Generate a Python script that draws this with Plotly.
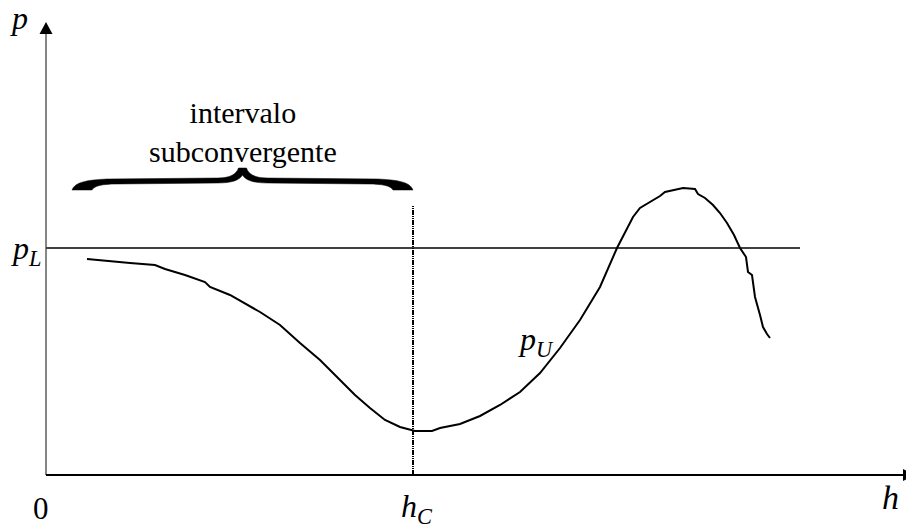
import plotly.graph_objects as go

# ---- data (h, p) ----
h_curve = [41, 54, 84, 109, 119, 139, 159, 164, 184, 214, 234, 254, 274, 294, 309, 324, 339, 354,
           369, 386, 394, 414, 434, 454, 474, 494, 514, 534, 554, 571, 587, 594, 604, 614, 619,
           629, 637, 649, 652, 659, 667, 674, 681, 688, 694, 700, 702, 706, 709, 714, 717, 721, 724]
p_curve = [216, 215, 212, 210, 206, 200, 193, 188, 180, 163, 150, 132, 115, 95, 80, 67, 55, 48,
           44, 44, 47, 51, 59, 70, 83, 102, 127, 155, 188, 227, 258, 267, 273, 279, 283,
           285, 287, 286, 281, 277, 270, 262, 252, 240, 227, 218, 203, 200, 178, 160, 148, 141, 137]

p_L = 227          # level of the horizontal line
h_L_end = 754      # end of horizontal line
h_C = 367          # critical h
h_C_top = 270      # top of dotted line
brace_start = 26   # left end of brace
brace_base = 285   # bottom level of brace
h_max = 857        # end of h axis (arrow base)
p_max = 441        # end of p axis (arrow base)

BLACK = "#000000"
SERIF = "Liberation Serif"

fig = go.Figure()

# main curve p_U
fig.add_trace(go.Scatter(x=h_curve, y=p_curve, mode="lines",
                         line=dict(color=BLACK, width=2), hoverinfo="skip"))
# horizontal p_L line
fig.add_trace(go.Scatter(x=[0, h_L_end], y=[p_L, p_L], mode="lines",
                         line=dict(color=BLACK, width=1.3), hoverinfo="skip"))
# dotted vertical at h_C
fig.add_trace(go.Scatter(x=[h_C, h_C], y=[0, h_C_top], mode="lines",
                         line=dict(color=BLACK, width=2, dash="5px,1px,1px,1px,1px,1px"),
                         hoverinfo="skip"))
# axes
fig.add_trace(go.Scatter(x=[0, 0], y=[0, p_max], mode="lines",
                         line=dict(color="#444444", width=1.3), hoverinfo="skip"))
fig.add_trace(go.Scatter(x=[0, h_max], y=[0, 0], mode="lines",
                         line=dict(color=BLACK, width=2), hoverinfo="skip"))

shapes = []
# arrowheads
shapes.append(dict(type="path", xref="x", yref="y",
                   path=f"M -6.5,{p_max} L 6.5,{p_max} L 0,{p_max + 12} Z",
                   fillcolor=BLACK, line=dict(width=0)))
shapes.append(dict(type="path", xref="x", yref="y",
                   path=f"M {h_max},-6 L {h_max},6 L {h_max + 12},0 Z",
                   fillcolor=BLACK, line=dict(width=0)))


def brace_path(L, R, b):
    M = (L + R) / 2
    pts = (
        f"M {L},{b} "
        f"C {L+3},{b+8} {L+15},{b+10} {L+35},{b+11} "
        f"L {M-25},{b+12} "
        f"C {M-12},{b+12} {M-6},{b+16} {M-4},{b+22} "
        f"L {M+4},{b+22} "
        f"C {M+6},{b+16} {M+12},{b+12} {M+25},{b+12} "
        f"L {R-35},{b+11} "
        f"C {R-15},{b+10} {R-3},{b+8} {R},{b} "
        f"L {R-20},{b} "
        f"C {R-22},{b+4} {R-30},{b+6} {R-45},{b+6} "
        f"L {M+25},{b+7} "
        f"C {M+10},{b+7} {M+3},{b+10} {M},{b+15} "
        f"C {M-3},{b+10} {M-10},{b+7} {M-25},{b+7} "
        f"L {L+45},{b+6} "
        f"C {L+30},{b+6} {L+22},{b+4} {L+20},{b} Z"
    )
    return pts


shapes.append(dict(type="path", xref="x", yref="y",
                   path=brace_path(brace_start, h_C, brace_base),
                   fillcolor=BLACK, line=dict(color=BLACK, width=0.5)))

annotations = [
    dict(x=-27, y=457, text="<i>p</i>", size=32),
    dict(x=-20, y=225, text="<i>p</i><sub><i>L</i></sub>", size=32),
    dict(x=-5, y=-33, text="0", size=31),
    dict(x=h_C + 4, y=-33, text="<i>h</i><sub><i>C</i></sub>", size=32),
    dict(x=844, y=-22, text="<i>h</i>", size=34),
    dict(x=490, y=134, text="<i>p</i><sub><i>U</i></sub>", size=32),
    dict(x=(brace_start + h_C) / 2, y=343, text="intervalo<br>subconvergente", size=30),
]
ann_list = []
for a in annotations:
    ann_list.append(dict(x=a["x"], y=a["y"], text=a["text"], xref="x", yref="y",
                         showarrow=False, xanchor="center", yanchor="middle",
                         font=dict(family=SERIF, size=a["size"], color=BLACK)))

fig.update_layout(
    width=906, height=529,
    margin=dict(l=0, r=0, t=0, b=0),
    paper_bgcolor="white", plot_bgcolor="white",
    showlegend=False,
    shapes=shapes, annotations=ann_list,
    xaxis=dict(range=[-46, 860], visible=False, fixedrange=True),
    yaxis=dict(range=[-54, 475], visible=False, fixedrange=True),
)

fig.write_html("out.html", config={"displayModeBar": False},
               post_script="document.body.style.margin='0';document.body.style.overflow='hidden';")
